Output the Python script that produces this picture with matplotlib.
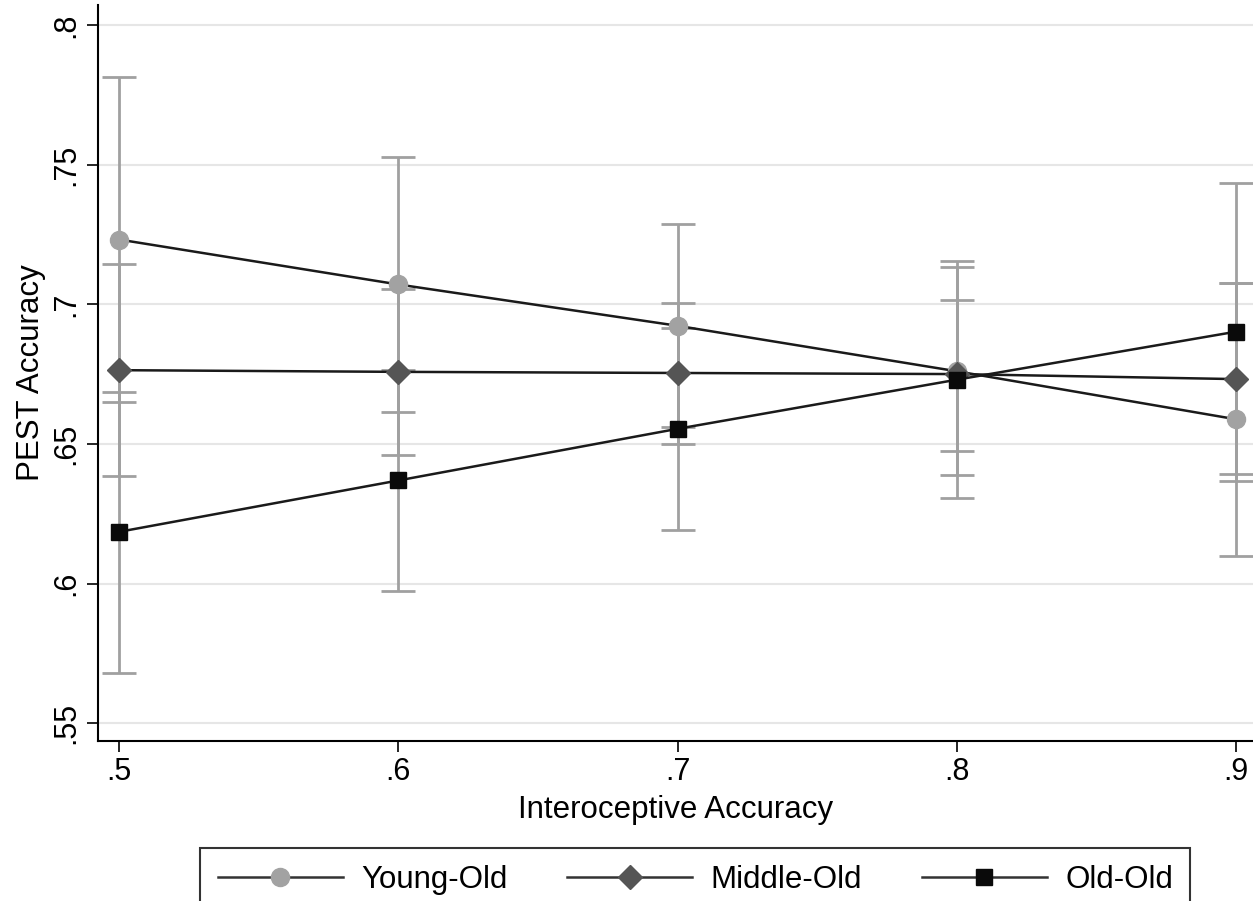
import numpy as np
import matplotlib.pyplot as plt
from matplotlib.ticker import FuncFormatter

plt.rcParams['font.family'] = ['Liberation Sans', 'DejaVu Sans']

x = [0.5, 0.6, 0.7, 0.8, 0.9]
groups = ["Young-Old", "Middle-Old", "Old-Old"]

young_mean = [0.7232, 0.7071, 0.6923, 0.6760, 0.6588]
young_lo = [0.6651, 0.6614, 0.6560, 0.6389, 0.6099]
young_hi = [0.7815, 0.7528, 0.7287, 0.7133, 0.7077]

middle_mean = [0.6764, 0.6758, 0.6754, 0.6750, 0.6732]
middle_lo = [0.6386, 0.6461, 0.6500, 0.6474, 0.6391]
middle_hi = [0.7145, 0.7055, 0.7006, 0.7017, 0.7075]

old_mean = [0.6185, 0.6369, 0.6554, 0.6730, 0.6902]
old_lo = [0.5678, 0.5974, 0.6192, 0.6306, 0.6368]
old_hi = [0.6687, 0.6764, 0.6916, 0.7154, 0.7435]

means = [young_mean, middle_mean, old_mean]
lows = [young_lo, middle_lo, old_lo]
highs = [young_hi, middle_hi, old_hi]
markers = ["o", "D", "s"]
marker_colors = ["#a2a2a2", "#555555", "#0a0a0a"]
marker_sizes = [13, 12, 12]

fig = plt.figure(figsize=(12.53, 9.01), dpi=100)
ax = fig.add_axes([0.0782, 0.1776, 0.9218, 0.8169])

for m, lo, hi in zip(means, lows, highs):
    m = np.array(m)
    err = [m - np.array(lo), np.array(hi) - m]
    ax.errorbar(x, m, yerr=err, fmt="none", ecolor="#a0a0a0", elinewidth=2.0,
                capsize=12, capthick=2.0, zorder=2)

handles = []
for name, m, mk, mc, ms in zip(groups, means, markers, marker_colors, marker_sizes):
    h, = ax.plot(x, m, color="#1a1a1a", lw=1.8, marker=mk, markersize=ms,
                 markerfacecolor=mc, markeredgecolor=mc, label=name, zorder=3)
    handles.append(h)

ax.set_xlim(0.4925, 0.906)
ax.set_ylim(0.5436, 0.8072)
ax.set_xticks(x)
ax.set_yticks([0.55, 0.6, 0.65, 0.7, 0.75, 0.8])
fmt = FuncFormatter(lambda v, p: ("%g" % round(v, 2)).lstrip("0"))
ax.xaxis.set_major_formatter(fmt)
ax.yaxis.set_major_formatter(fmt)
ax.tick_params(axis="both", labelsize=22, length=8, width=1.2, colors="black")
ax.tick_params(axis="y", pad=4)
for lab in ax.get_yticklabels():
    lab.set_rotation(90)
    lab.set_va("center")
ax.yaxis.grid(True, color="#e6e6e6", lw=1.5)
ax.set_axisbelow(True)
for s in ["top", "right"]:
    ax.spines[s].set_visible(False)
for s in ["left", "bottom"]:
    ax.spines[s].set_linewidth(1.5)

ax.set_xlabel("Interoceptive Accuracy", fontsize=22.5, labelpad=6)
ax.set_ylabel("PEST Accuracy", fontsize=22.5, labelpad=4)

leg = fig.legend(handles=handles, loc="upper center", bbox_to_anchor=(0.555, 0.0588),
                 ncol=3, fontsize=22.5, frameon=True, fancybox=False, edgecolor="black",
                 handlelength=4.0, columnspacing=1.9, borderpad=0.55, handletextpad=0.6,
                 borderaxespad=0)
leg.get_frame().set_linewidth(1.5)
for lh in leg.legend_handles:
    lh.set_color("#333333")

plt.savefig("out.png", dpi=100)
